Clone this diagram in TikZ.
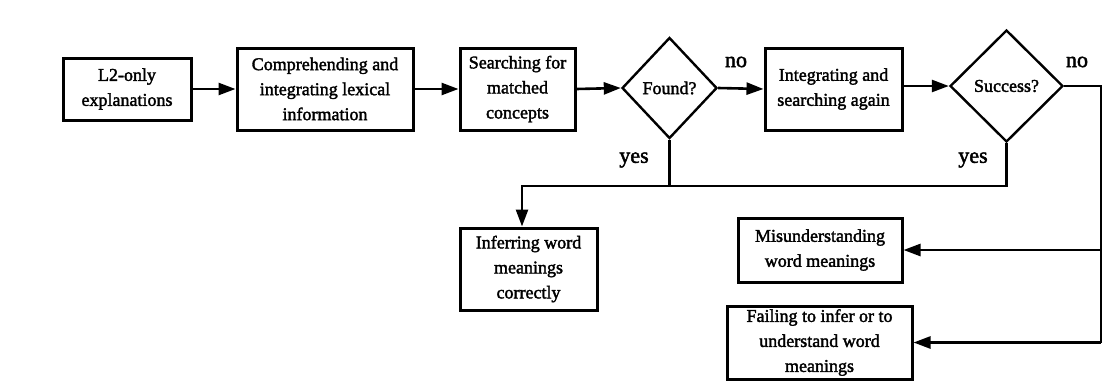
\documentclass[tikz,border=0pt]{standalone}
\usepackage{fontspec}
\setmainfont{Liberation Serif}
\newfontfamily\heavyserif{Liberation Serif}[FakeBold=2]
\usepackage{tikz}
\usetikzlibrary{shapes.geometric, arrows.meta, positioning, calc}

\begin{document}
\begin{tikzpicture}[x=0.5pt, y=-0.5pt,
    font=\heavyserif\fontsize{9}{12.5}\selectfont,
    box/.style={draw, line width=1.5pt, align=center, inner sep=1pt},
    decision/.style={draw, diamond, line width=1.2pt, inner sep=0pt, align=center},
    line/.style={line width=1.3pt},
    arrow/.style={line, -{Triangle[length=8.5pt, width=6pt]}},
    lbl/.style={inner sep=0pt, font=\heavyserif\fontsize{11}{13}\selectfont}]
  \useasboundingbox (0,0) rectangle (1117,380);

  % Top row
  \node[box, minimum width=64pt, minimum height=31pt] (l2) at (127,89) {L2-only\\explanations};
  \node[box, minimum width=88pt, minimum height=41pt] (comp) at (325,89) {Comprehending and\\integrating lexical\\information};
  \node[box, minimum width=57.5pt, minimum height=41pt] (search) at (517.5,89) {Searching for\\matched\\concepts};
  \node[decision, minimum width=47.5pt, minimum height=50.5pt] (found) at (669.5,88) {Found?};
  \node[box, minimum width=68.5pt, minimum height=41pt] (integ) at (833.5,89) {Integrating and\\searching again};
  \node[decision, minimum width=56.5pt, minimum height=56pt] (success) at (1006.5,86) {Success?};

  % Outcomes
  \node[box, minimum width=68.5pt, minimum height=41pt] (infer) at (528.5,269) {Inferring word\\meanings\\correctly};
  \node[box, minimum width=82pt, minimum height=32pt] (mis) at (820,250) {Misunderstanding\\word meanings};
  \node[box, minimum width=92.5pt, minimum height=36.5pt] (fail) at (819.5,342.5) {Failing to infer or to\\understand word\\meanings};

  % Labels
  \node[lbl] (nofound) at (736,62) {no};
  \node[lbl] (nosuccess) at (1077,62) {no};
  \node[lbl] (yesfound) at (634,160) {yes};
  \node[lbl] (yessuccess) at (973,160) {yes};

  % Corner points
  \coordinate (yesjoin) at (522,186);
  \coordinate (nocorner) at (1101,86);

  % Main flow
  \draw[arrow] (l2.east) -- (comp.west);
  \draw[arrow] (comp.east) -- (search.west);
  \draw[arrow] (search.east) -- (found.west);
  \draw[arrow] (found.east) -- (integ.west);
  \draw[arrow] (integ.east |- success.west) -- (success.west);

  % Yes branches
  \draw[line] (found.south) -- (found.south |- yesjoin);
  \draw[arrow] (success.south) |- (yesjoin) -- (yesjoin |- infer.north);

  % No branch
  \draw[line] (success.east) -- (nocorner) -- (nocorner |- fail.east);
  \draw[arrow] (nocorner |- mis.east) -- (mis.east);
  \draw[arrow] (nocorner |- fail.east) -- (fail.east);
\end{tikzpicture}
\end{document}
